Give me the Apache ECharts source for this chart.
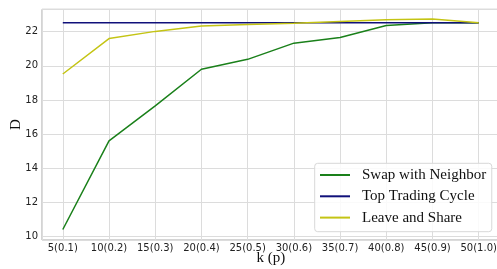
<!DOCTYPE html>
<html>
<head>
<meta charset="utf-8">
<script src="https://cdn.jsdelivr.net/npm/echarts@6/dist/echarts.min.js"></script>
<style>
  html, body { margin: 0; padding: 0; background: #fff; }
  #chart { width: 497px; height: 269px; }
</style>
</head>
<body>
<div id="chart"></div>
<script>
const kLabels = ['5(0.1)', '10(0.2)', '15(0.3)', '20(0.4)', '25(0.5)', '30(0.6)', '35(0.7)', '40(0.8)', '45(0.9)', '50(1.0)'];
const swapNeighbor = [10.4, 15.6, 17.65, 19.8, 20.38, 21.33, 21.66, 22.37, 22.52, 22.52];
const topTradingCycle = [22.52, 22.52, 22.52, 22.52, 22.52, 22.52, 22.52, 22.52, 22.52, 22.52];
const leaveShare = [19.52, 21.6, 22.02, 22.34, 22.43, 22.5, 22.6, 22.7, 22.74, 22.52];

const serif = '"Liberation Serif", "DejaVu Serif", serif';
const sans = '"DejaVu Sans", sans-serif';

function pairs(values) {
  return values.map((v, i) => [i, v]);
}

const chart = echarts.init(document.getElementById('chart'));

chart.setOption({
  animation: false,
  backgroundColor: '#fff',
  grid: {
    left: 42, right: -2.5, top: 9.3, bottom: 29,
    outerBoundsMode: 'none',
    containLabel: false,
    show: true, borderColor: '#a8a8a8', borderWidth: 1
  },
  xAxis: {
    type: 'value',
    min: -0.45, max: 9.45,
    splitNumber: 10,
    name: 'k (p)',
    nameLocation: 'middle',
    nameMoveOverlap: false,
    nameGap: 11,
    nameTextStyle: { fontFamily: serif, fontSize: 15, color: '#111', verticalAlign: 'top' },
    axisLine: { show: false },
    axisTick: { show: false },
    axisLabel: {
      showMinLabel: false, showMaxLabel: false,
      margin: 3,
      fontFamily: sans, fontSize: 10, color: '#222',
      formatter: v => (Number.isInteger(v) && kLabels[v]) ? kLabels[v] : ''
    },
    splitLine: { show: true, lineStyle: { color: '#dcdcdc', width: 1 } }
  },
  yAxis: {
    type: 'value',
    min: 9.785, max: 23.315,
    splitNumber: 6,
    name: 'D',
    nameLocation: 'middle',
    nameRotate: 90,
    nameMoveOverlap: false,
    nameGap: 18,
    nameTextStyle: { fontFamily: serif, fontSize: 15, color: '#111' },
    axisLine: { show: false },
    axisTick: { show: false },
    axisLabel: {
      showMinLabel: false, showMaxLabel: false,
      margin: 4,
      fontFamily: sans, fontSize: 10, color: '#222',
      formatter: v => Number.isInteger(v) ? String(v) : ''
    },
    splitLine: { show: true, lineStyle: { color: '#dcdcdc', width: 1 } }
  },
  legend: {
    orient: 'vertical',
    left: 314.7, top: 163.3,
    padding: [2.7, 5.6, 5.1, 5.3],
    itemWidth: 30, itemHeight: 2,
    itemGap: 3.3,
    icon: 'rect',
    backgroundColor: 'rgba(255,255,255,0.85)',
    borderColor: '#d8d8d8', borderWidth: 1, borderRadius: 3,
    textStyle: {
      fontFamily: serif, fontSize: 15, color: '#111',
      lineHeight: 18, padding: [0, 0, 0, 7]
    },
    data: ['Swap with Neighbor', 'Top Trading Cycle', 'Leave and Share']
  },
  series: [
    {
      name: 'Swap with Neighbor', type: 'line', data: pairs(swapNeighbor),
      symbol: 'none', color: '#1a801a', lineStyle: { width: 1.5 }
    },
    {
      name: 'Top Trading Cycle', type: 'line', data: pairs(topTradingCycle),
      symbol: 'none', color: '#10107a', lineStyle: { width: 1.5 }
    },
    {
      name: 'Leave and Share', type: 'line', data: pairs(leaveShare),
      symbol: 'none', color: '#c4c414', lineStyle: { width: 1.5 }
    }
  ]
});
</script>
</body>
</html>
